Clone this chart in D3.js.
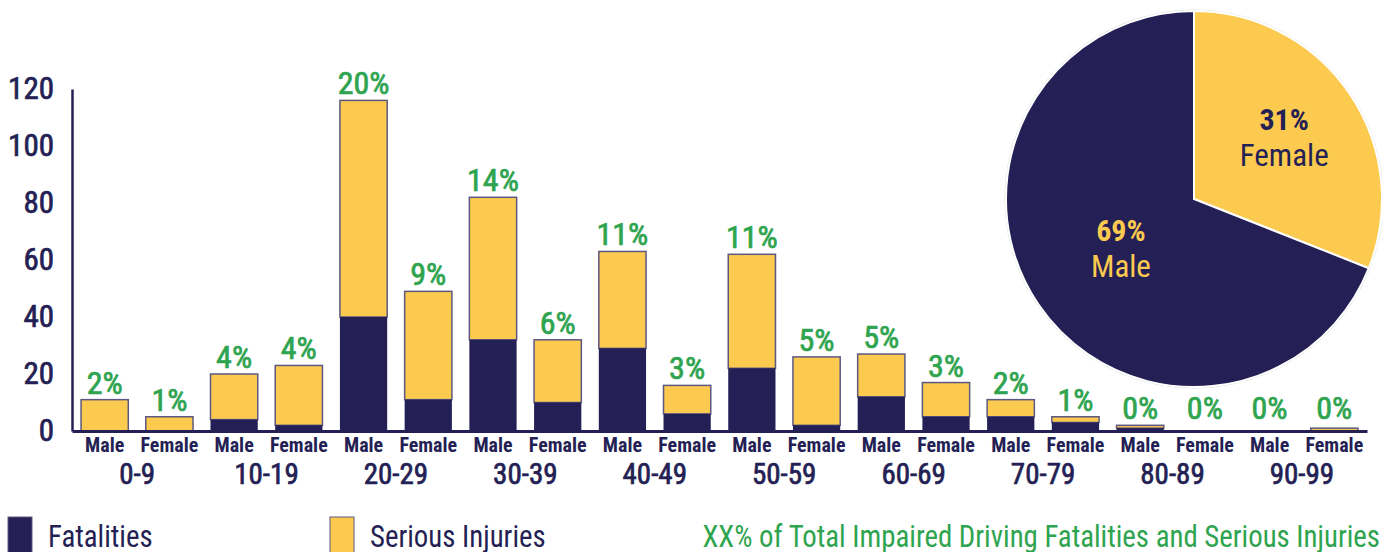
<!DOCTYPE html>
<html>
<head>
<meta charset="utf-8">
<script src="https://cdn.jsdelivr.net/npm/d3@7"></script>
<style>
  body { margin: 0; background: #fff; }
  svg text { font-family: "Roboto Condensed", "Liberation Sans Narrow", "DejaVu Sans Condensed", sans-serif; font-stretch: condensed; }
</style>
</head>
<body>
<svg id="chart" width="1382" height="552"></svg>
<script>
// data
var ageGroups = ["0-9", "10-19", "20-29", "30-39", "40-49", "50-59", "60-69", "70-79", "80-89", "90-99"];
var sexes = ["Male", "Female"];
var fatalities = [0, 0, 4, 2, 40, 11, 32, 10, 29, 6, 22, 2, 12, 5, 5, 3, 1, 0, 0, 0];
var seriousInjuries = [11, 5, 16, 21, 76, 38, 50, 22, 34, 10, 40, 24, 15, 12, 6, 2, 1, 0, 0, 1];
var pctLabels = ["2%", "1%", "4%", "4%", "20%", "9%", "14%", "6%", "11%", "3%", "11%", "5%", "5%", "3%", "2%", "1%", "0%", "0%", "0%", "0%"];
var yTicks = [0, 20, 40, 60, 80, 100, 120];
var pieLabels = ["Female", "Male"];
var pieValues = [31, 69];

var navy = "#241f54", yellow = "#fdca50", green = "#2ea44f", edge = "#5c5880";

var svg = d3.select("#chart");

/* bars */
var bars = [];
ageGroups.forEach(function(g, i) {
  sexes.forEach(function(s, j) {
    var k = i * 2 + j;
    bars.push({ key: g + "-" + s, group: g, sex: s, fat: fatalities[k], inj: seriousInjuries[k], pct: pctLabels[k] });
  });
});

var x = d3.scaleBand()
  .domain(bars.map(function(d) { return d.key; }))
  .range([72, 1367])
  .paddingInner(0.27)
  .paddingOuter(0.14);

var y = d3.scaleLinear().domain([0, 120]).range([431, 89]);

var g = svg.append("g");

var barG = g.selectAll("g.bar")
  .data(bars)
  .enter().append("g")
  .attr("class", "bar");

barG.append("rect")
  .attr("x", function(d) { return x(d.key); })
  .attr("width", x.bandwidth())
  .attr("y", function(d) { return y(d.fat + d.inj); })
  .attr("height", function(d) { return y(d.fat) - y(d.fat + d.inj); })
  .style("fill", yellow)
  .style("stroke", edge)
  .style("stroke-width", 1.5)
  .style("display", function(d) { return d.inj > 0 ? null : "none"; });

barG.append("rect")
  .attr("x", function(d) { return x(d.key); })
  .attr("width", x.bandwidth())
  .attr("y", function(d) { return y(d.fat); })
  .attr("height", function(d) { return y(0) - y(d.fat); })
  .style("fill", navy)
  .style("display", function(d) { return d.fat > 0 ? null : "none"; });

barG.append("text")
  .attr("class", "medium")
  .attr("x", function(d) { return x(d.key) + x.bandwidth() / 2; })
  .attr("y", function(d) { return Math.min(y(d.fat + d.inj), y(0) - 6) - 6; })
  .attr("text-anchor", "middle")
  .style("font-size", "32px")
  .style("fill", green)
  .text(function(d) { return d.pct; });

/* axes */
var yAxis = d3.axisLeft(y).tickValues(yTicks).tickSize(0).tickPadding(18);
var ya = g.append("g").attr("transform", "translate(72,0)").call(yAxis);
ya.select(".domain").style("stroke", navy).style("stroke-width", 2.5);
ya.selectAll("text")
  .attr("class", "medium")
  .style("font-size", "31px")
  .style("fill", navy);

var xAxis = d3.axisBottom(x).tickSize(0).tickSizeOuter(0).tickPadding(7)
  .tickFormat(function(k) { return k.split("-").pop(); });
var xa = g.append("g").attr("transform", "translate(0,431)").call(xAxis);
xa.select(".domain").style("stroke", navy).style("stroke-width", 3);
xa.selectAll("text")
  .style("font-size", "20px")
  .style("font-weight", 700)
  .style("fill", navy);

g.selectAll("text.age")
  .data(ageGroups)
  .enter().append("text")
  .attr("class", "age medium")
  .attr("x", function(d, i) {
    var a = x(bars[i * 2].key), b = x(bars[i * 2 + 1].key) + x.bandwidth();
    return (a + b) / 2;
  })
  .attr("y", 484)
  .attr("text-anchor", "middle")
  .style("font-size", "29px")
  .style("fill", navy)
  .text(function(d) { return d; });

// the reference uses a medium weight we do not have: thicken regular a bit
svg.selectAll("text.medium")
  .style("font-weight", 400)
  .style("stroke", function() { return d3.select(this).style("fill"); })
  .style("stroke-width", 0.7);

/* legend */
var legend = [{ label: "Fatalities", color: navy, x: 8 }, { label: "Serious Injuries", color: yellow, x: 330 }];
var lg = svg.selectAll("g.legend").data(legend).enter().append("g").attr("class", "legend")
  .attr("transform", function(d) { return "translate(" + d.x + ",517)"; });
lg.append("rect").attr("width", 24).attr("height", 40)
  .style("fill", function(d) { return d.color; })
  .style("stroke", edge).style("stroke-width", 1);
lg.append("text").attr("class", "squish").attr("x", 40).attr("y", 30)
  .style("font-size", "31px").style("fill", navy)
  .text(function(d) { return d.label; });

svg.append("text")
  .attr("class", "squish")
  .attr("x", 1380).attr("y", 547)
  .attr("text-anchor", "end")
  .style("font-size", "31px")
  .style("fill", green)
  .text("XX% of Total Impaired Driving Fatalities and Serious Injuries");

// reference font is narrower than the condensed one we have
svg.selectAll("text.squish").each(function() {
  var w = this.getComputedTextLength();
  d3.select(this).attr("textLength", w * 0.93).attr("lengthAdjust", "spacingAndGlyphs");
});

/* pie */
var r = 188;
var pie = d3.pie().sort(null).value(function(d) { return d; });
var arc = d3.arc().innerRadius(0).outerRadius(r);
var pg = svg.append("g").attr("transform", "translate(1194,199)");
var slices = pie(pieValues);
pg.append("circle").attr("r", r + 1).style("fill", "none").style("stroke", "#ddd").style("stroke-width", 1);
pg.selectAll("path").data(slices).enter().append("path")
  .attr("d", arc)
  .style("fill", function(d, i) { return i === 0 ? yellow : navy; })
  .style("stroke", "#fff").style("stroke-width", 2);

var labelArc = [d3.arc().innerRadius(0).outerRadius(r * 1.16), d3.arc().innerRadius(0).outerRadius(r * 0.94)];
var pl = pg.selectAll("g.pl").data(slices).enter().append("g")
  .attr("transform", function(d, i) {
    var c = labelArc[i].centroid(d);
    return "translate(" + c[0] + "," + c[1] + ")";
  });
pl.append("text").attr("text-anchor", "middle").attr("y", -8)
  .style("font-size", "30px").style("font-weight", 700)
  .style("fill", function(d, i) { return i === 0 ? navy : yellow; })
  .text(function(d) { return d.data + "%"; });
pl.append("text").attr("text-anchor", "middle").attr("y", 28)
  .style("font-size", "31px")
  .style("fill", function(d, i) { return i === 0 ? navy : yellow; })
  .text(function(d, i) { return pieLabels[i]; });
</script>
</body>
</html>
